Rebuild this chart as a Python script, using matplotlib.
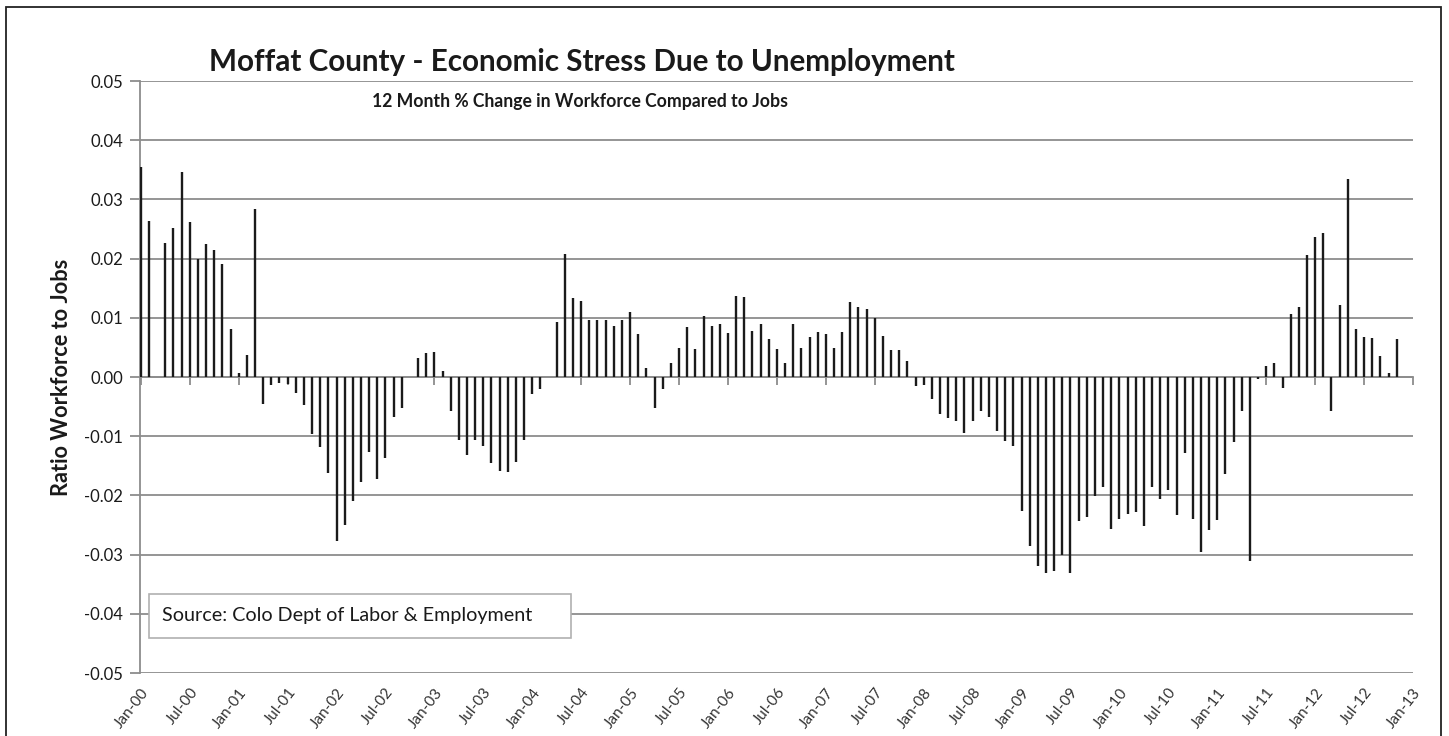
import matplotlib
matplotlib.use("Agg")
import matplotlib.pyplot as plt
from matplotlib.patches import Rectangle
import numpy as np

# Monthly ratio values, Jan-2000 .. Dec-2012 (None = no reading)
ratio_2000 = [0.0354, 0.0264, 0.0, 0.0227, 0.0252, 0.0347, 0.0261, 0.0199, 0.0225, 0.0215, 0.0191, 0.0081]
ratio_2001 = [0.0007, 0.0037, 0.0283, -0.0046, -0.0014, -0.0010, -0.0011, -0.0027, -0.0048, -0.0097, -0.0119, -0.0163]
ratio_2002 = [-0.0277, -0.0250, -0.0209, -0.0178, -0.0126, -0.0172, -0.0136, -0.0068, -0.0053, 0.0, 0.0032, 0.0040]
ratio_2003 = [0.0042, 0.0010, -0.0058, -0.0107, -0.0131, -0.0107, -0.0116, -0.0146, -0.0158, -0.0161, -0.0143, -0.0107]
ratio_2004 = [-0.0028, -0.0021, 0.0, 0.0093, 0.0208, 0.0134, 0.0128, 0.0096, 0.0096, 0.0096, 0.0086, 0.0096]
ratio_2005 = [0.0110, 0.0073, 0.0015, -0.0053, -0.0021, 0.0023, 0.0049, 0.0084, 0.0047, 0.0103, 0.0086, 0.0090]
ratio_2006 = [0.0074, 0.0137, 0.0135, 0.0078, 0.0089, 0.0064, 0.0047, 0.0023, 0.0090, 0.0049, 0.0067, 0.0076]
ratio_2007 = [0.0073, 0.0049, 0.0076, 0.0127, 0.0118, 0.0115, 0.0099, 0.0069, 0.0045, 0.0046, 0.0027, -0.0016]
ratio_2008 = [-0.0014, -0.0038, -0.0063, -0.0070, -0.0075, -0.0094, -0.0075, -0.0058, -0.0068, -0.0092, -0.0108, -0.0116]
ratio_2009 = [-0.0226, -0.0285, -0.0319, -0.0331, -0.0327, -0.0301, -0.0331, -0.0243, -0.0236, -0.0201, -0.0185, -0.0257]
ratio_2010 = [-0.0240, -0.0231, -0.0228, -0.0252, -0.0186, -0.0206, -0.0191, -0.0233, -0.0128, -0.0240, -0.0296, -0.0259]
ratio_2011 = [-0.0241, -0.0164, -0.0110, -0.0057, -0.0310, -0.0003, 0.0018, 0.0023, -0.0018, 0.0106, 0.0118, 0.0206]
ratio_2012 = [0.0237, 0.0244, -0.0057, 0.0122, 0.0335, 0.0081, 0.0068, 0.0066, 0.0035, 0.0006, 0.0064, None]

tick_labels = ["Jan-00", "Jul-00", "Jan-01", "Jul-01", "Jan-02", "Jul-02", "Jan-03", "Jul-03",
               "Jan-04", "Jul-04", "Jan-05", "Jul-05", "Jan-06", "Jul-06", "Jan-07", "Jul-07",
               "Jan-08", "Jul-08", "Jan-09", "Jul-09", "Jan-10", "Jul-10", "Jan-11", "Jul-11",
               "Jan-12", "Jul-12", "Jan-13"]

title = "Moffat County - Economic Stress Due to Unemployment"
subtitle = "12 Month % Change in Workforce Compared to Jobs"
y_title = "Ratio Workforce to Jobs"
source_note = "Source: Colo Dept of Labor & Employment"

values = (ratio_2000 + ratio_2001 + ratio_2002 + ratio_2003 + ratio_2004 + ratio_2005 +
          ratio_2006 + ratio_2007 + ratio_2008 + ratio_2009 + ratio_2010 + ratio_2011 + ratio_2012)
months = np.arange(len(values))
heights = np.array([np.nan if v is None else v for v in values], dtype=float)

plt.rcParams["font.family"] = ["Lato", "DejaVu Sans"]

W, H = 1449, 736
fig = plt.figure(figsize=(W / 100, H / 100), dpi=100)
fig.patch.set_facecolor("white")

# outer frame
fig.add_artist(Rectangle((6 / W, -0.02), (1441 - 6) / W, 1.02 - 7 / H,
                         transform=fig.transFigure, fill=False,
                         edgecolor="#222222", linewidth=1.3))

left, right, top, bottom = 140 / W, 1413 / W, 1 - 81 / H, 1 - 673 / H
ax = fig.add_axes([left, bottom, right - left, top - bottom])

# one thin column per month
ax.vlines(months, 0, heights, colors="#1a1a1a", linewidth=1.7, zorder=3)

ax.set_xlim(-0.1, 156)
ax.set_ylim(-0.05, 0.05)
ax.set_yticks(np.arange(-0.05, 0.0501, 0.01))
ax.yaxis.set_major_formatter(matplotlib.ticker.FormatStrFormatter("%.2f"))
ax.grid(axis="y", color="#8c8c8c", linewidth=1.3, zorder=1)
ax.set_axisbelow(True)

for s in ("top", "right"):
    ax.spines[s].set_visible(False)
ax.spines["left"].set_color("#8c8c8c")
ax.spines["left"].set_linewidth(1.3)

# category axis drawn along zero with outward ticks every 6 months
ax.spines["bottom"].set_position(("data", 0))
ax.spines["bottom"].set_color("#8c8c8c")
ax.spines["bottom"].set_linewidth(1.3)
tick_pos = np.arange(0, 157, 6)
ax.set_xticks(tick_pos)
ax.tick_params(axis="x", direction="out", length=6, width=1.3, color="#8c8c8c",
               labelbottom=False)
ax.tick_params(axis="y", direction="out", length=7, width=1.3, color="#8c8c8c",
               labelsize=12, labelcolor="#1a1a1a", pad=5)

# date labels along the bottom of the plot
sec = ax.secondary_xaxis(0.0)
sec.set_xticks(tick_pos)
sec.set_xticklabels(tick_labels, rotation=52, ha="right", va="top",
                    rotation_mode="anchor", fontsize=11, color="#333333")
sec.tick_params(axis="x", length=0, pad=9)
sec.spines["bottom"].set_visible(False)

ax.set_ylabel(y_title, fontsize=15.7, fontweight="bold", color="#1a1a1a", labelpad=9)

fig.text(582 / W, 1 - 62 / H, title, ha="center", va="center",
         fontsize=21.3, fontweight="bold", color="#1a1a1a")
fig.text(580 / W, 1 - 102 / H, subtitle, ha="center", va="center",
         fontsize=12.7, fontweight="bold", color="#1a1a1a")

# source note box
ax.add_patch(Rectangle((9 / (right - left) / W, (673 - 638) / (673 - 81)),
                       (571 - 149) / (right - left) / W, 44 / (673 - 81),
                       transform=ax.transAxes, facecolor="white",
                       edgecolor="#b0b0b0", linewidth=1.2, zorder=4))
ax.text(22 / (right - left) / W, (673 - 616) / (673 - 81), source_note,
        transform=ax.transAxes, ha="left", va="center", fontsize=14.2,
        color="#1a1a1a", zorder=5)

fig.savefig("out.png", dpi=100, facecolor="white")
